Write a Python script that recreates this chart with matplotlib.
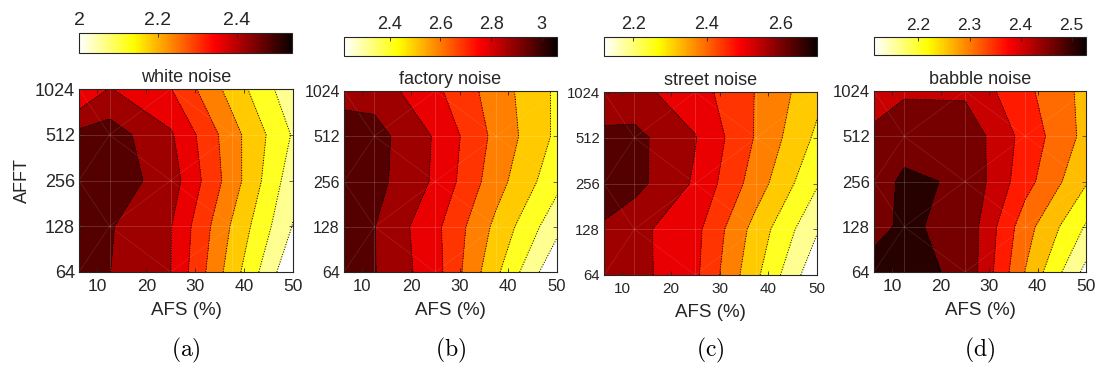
import numpy as np
import matplotlib
matplotlib.use('Agg')
import matplotlib.pyplot as plt
from matplotlib import cm, colors

plt.rcParams['font.family'] = ['Liberation Sans', 'DejaVu Sans']
plt.rcParams['mathtext.fontset'] = 'cm'

# grid of the measurements
afs = [6.25, 12.5, 25, 37.5, 50]          # AFS (%)
afft = [64, 128, 256, 512, 1024]          # AFFT
afft_ticks = ['64', '128', '256', '512', '1024']

# rows = AFFT (64 .. 1024), columns = AFS
white_noise = [[2.516, 2.481, 2.421, 2.210, 2.006],
               [2.522, 2.485, 2.423, 2.234, 2.057],
               [2.528, 2.516, 2.450, 2.270, 2.084],
               [2.498, 2.510, 2.428, 2.264, 2.114],
               [2.357, 2.423, 2.362, 2.216, 2.078]]
factory_noise = [[3.023, 2.971, 2.817, 2.519, 2.229],
                 [3.013, 2.969, 2.804, 2.570, 2.341],
                 [3.041, 2.999, 2.859, 2.631, 2.435],
                 [3.032, 3.004, 2.864, 2.659, 2.481],
                 [2.920, 2.926, 2.801, 2.641, 2.483]]
street_noise = [[2.603, 2.594, 2.520, 2.326, 2.133],
                [2.626, 2.590, 2.526, 2.352, 2.191],
                [2.674, 2.657, 2.562, 2.410, 2.255],
                [2.661, 2.655, 2.574, 2.436, 2.300],
                [2.565, 2.590, 2.536, 2.439, 2.333]]
babble_noise = [[2.522, 2.524, 2.501, 2.308, 2.145],
                [2.500, 2.516, 2.498, 2.330, 2.205],
                [2.490, 2.518, 2.504, 2.379, 2.265],
                [2.475, 2.492, 2.496, 2.392, 2.295],
                [2.425, 2.453, 2.450, 2.372, 2.295]]

titles = ['white noise', 'factory noise', 'street noise', 'babble noise']
data = [white_noise, factory_noise, street_noise, babble_noise]
clims = [(2.0, 2.54), (2.22, 3.06), (2.12, 2.70), (2.113, 2.528)]
cticks = [[2, 2.2, 2.4], [2.4, 2.6, 2.8, 3], [2.2, 2.4, 2.6], [2.2, 2.3, 2.4, 2.5]]
ctick_labels = [['2', '2.2', '2.4'], ['2.4', '2.6', '2.8', '3'],
                ['2.2', '2.4', '2.6'], ['2.2', '2.3', '2.4', '2.5']]
levels = [np.linspace(2.0, 2.54, 10), np.linspace(2.22, 3.06, 10),
          np.linspace(2.12, 2.70, 10),
          [2.11, 2.16, 2.21, 2.26, 2.31, 2.36, 2.41, 2.46, 2.51, 2.53]]
captions = ['(a)', '(b)', '(c)', '(d)']

W, H = 1103, 369
# pixel boxes: left, right, top, bottom
ax_box = [(79, 293, 89, 272), (344, 557, 91, 272), (604, 817, 92, 275), (874, 1086, 91, 272)]
cb_box = [(79, 292, 33, 53), (344, 557, 37, 56), (604, 817, 37, 56), (874, 1086, 37, 55)]
ytick_size = [13, 11.5, 10.7, 12]
xtick_size = [12.5, 12, 11, 12.5]
ctick_size = [14, 13, 13, 12.5]


def rect(b):
    l, r, t, bt = b
    return [l / W, (H - bt) / H, (r - l) / W, (bt - t) / H]


fig = plt.figure(figsize=(W / 100, H / 100), dpi=100)
cmap = plt.get_cmap('hot_r')
ylog = np.log2(afft)
dark = '#262626'

for i in range(4):
    ax = fig.add_axes(rect(ax_box[i]))
    cax = fig.add_axes(rect(cb_box[i]))
    Z = np.array(data[i])
    lv = np.array(levels[i])
    norm = colors.Normalize(*clims[i])
    fills = [cmap(norm(v)) for v in lv[:-1]]
    ax.contourf(afs, ylog, Z, levels=lv, colors=fills)

    # faint mesh lines like the exported patches
    for xv in afs[1:-1]:
        ax.axvline(xv, color='w', alpha=0.18, lw=0.6)
    for yv in ylog[1:-1]:
        ax.axhline(yv, color='w', alpha=0.18, lw=0.6)
    for a in range(4):
        for b in range(4):
            if (a + b) % 2 == 0:
                ax.plot([afs[a], afs[a + 1]], [ylog[b], ylog[b + 1]], color='w', alpha=0.12, lw=0.5)
            else:
                ax.plot([afs[a], afs[a + 1]], [ylog[b + 1], ylog[b]], color='w', alpha=0.12, lw=0.5)

    ax.contour(afs, ylog, Z, levels=lv[1:-1], colors='k', linestyles=':', linewidths=0.7)

    ax.set_xlim(6.25, 50)
    ax.set_ylim(6, 10)
    ax.set_xticks([10, 20, 30, 40, 50])
    ax.set_yticks(ylog)
    ax.set_yticklabels(afft_ticks)
    ax.tick_params(axis='y', labelsize=ytick_size[i], pad=3)
    ax.tick_params(axis='x', labelsize=xtick_size[i], pad=5)
    ax.tick_params(direction='in', length=3, width=0.6, colors=dark,
                   top=True, right=True)
    for s in ax.spines.values():
        s.set_color(dark)
        s.set_linewidth(0.8)
    ax.set_xlabel('AFS (%)', fontsize=13.5, color=dark, labelpad=6)
    ax.set_title(titles[i], fontsize=13, color=dark, pad=5)
    if i == 0:
        ax.set_ylabel('AFFT', fontsize=13, color=dark, labelpad=3)

    cb = fig.colorbar(cm.ScalarMappable(norm=norm, cmap=cmap), cax=cax, orientation='horizontal')
    cax.xaxis.set_ticks_position('top')
    cb.set_ticks(cticks[i])
    cb.set_ticklabels(ctick_labels[i])
    cax.tick_params(direction='in', length=3, width=0.6, labelsize=ctick_size[i], colors=dark, pad=3)
    cb.outline.set_edgecolor(dark)
    cb.outline.set_linewidth(0.8)

    cx = (ax_box[i][0] + ax_box[i][1]) / 2 / W
    fig.text(cx, 1 - 350 / H, r'$\mathrm{' + captions[i] + '}$', ha='center', va='center', fontsize=17)

fig.savefig('out.png', dpi=100)
